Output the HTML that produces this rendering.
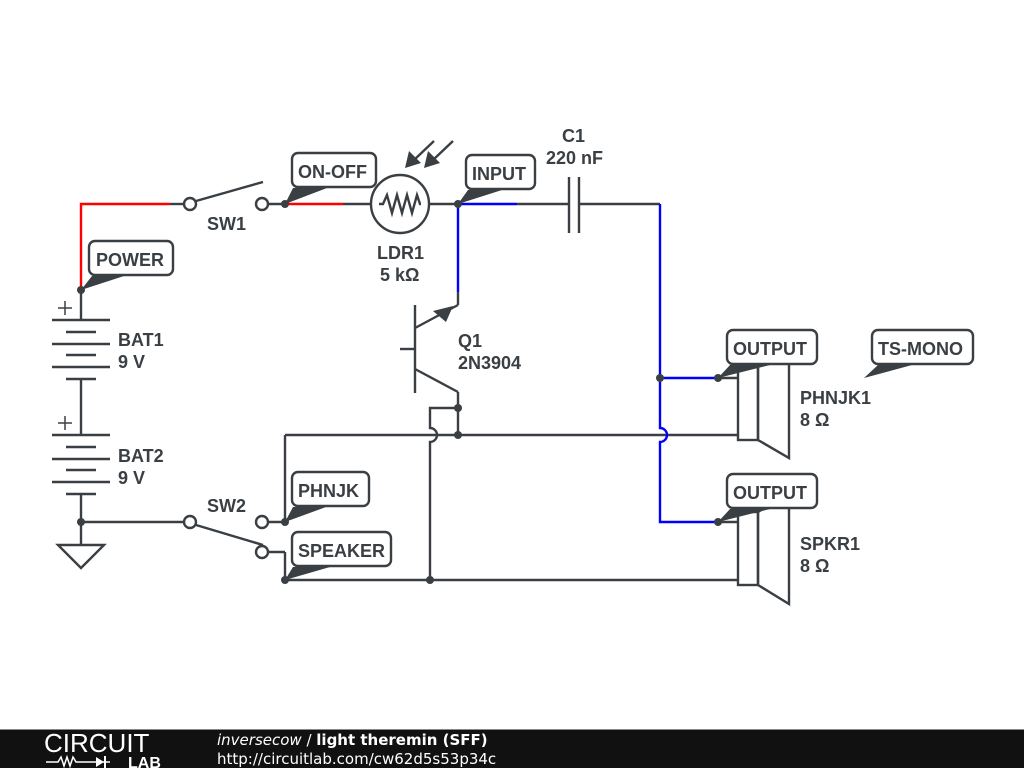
<!DOCTYPE html>
<html><head><meta charset="utf-8"><style>
html,body{margin:0;padding:0;background:#fff;width:1024px;height:768px;overflow:hidden}
svg{display:block}
text{font-family:"Liberation Sans",sans-serif;font-weight:bold;font-size:18px;fill:#3a3f44}
text.f{font-family:"DejaVu Sans",sans-serif;font-size:15px;fill:#fff;font-weight:normal}
</style></head><body>
<svg width="1024" height="768" viewBox="0 0 1024 768" xmlns="http://www.w3.org/2000/svg">
<g stroke="#3a3f44" stroke-width="2.4" fill="none">
<line x1="170" y1="204" x2="184" y2="204"/>
<line x1="268" y1="204" x2="285" y2="204"/>
<line x1="343" y1="204" x2="371" y2="204"/>
<line x1="429" y1="204" x2="458" y2="204"/>
<line x1="517" y1="204" x2="569" y2="204"/>
<line x1="579" y1="204" x2="660" y2="204"/>
<line x1="569" y1="177" x2="569" y2="233"/>
<line x1="579" y1="177" x2="579" y2="233"/>
<circle cx="190" cy="204" r="6"/>
<circle cx="262" cy="204" r="6"/>
<line x1="196" y1="201" x2="263" y2="182"/>
<circle cx="400" cy="204" r="29"/>
<polyline points="379,204 383,204 387,195 392,213 397,195 402,213 407,195 412,213 417,195 420,204 421,204"/>
<line x1="434" y1="141" x2="414" y2="160"/>
<line x1="453" y1="141" x2="433" y2="160"/>
<line x1="81" y1="290" x2="81" y2="320"/>
<line x1="52" y1="320" x2="110" y2="320"/><line x1="66" y1="332" x2="96" y2="332"/>
<line x1="52" y1="344" x2="110" y2="344"/><line x1="66" y1="355" x2="96" y2="355"/>
<line x1="52" y1="367" x2="110" y2="367"/><line x1="66" y1="379" x2="96" y2="379"/>
<line x1="81" y1="379" x2="81" y2="435"/>
<line x1="52" y1="435" x2="110" y2="435"/><line x1="66" y1="447" x2="96" y2="447"/>
<line x1="52" y1="459" x2="110" y2="459"/><line x1="66" y1="470" x2="96" y2="470"/>
<line x1="52" y1="482" x2="110" y2="482"/><line x1="66" y1="494" x2="96" y2="494"/>
<line x1="81" y1="494" x2="81" y2="545"/>
<polygon points="58,545 104,545 81,568"/>
<line x1="58" y1="308" x2="72" y2="308" stroke-width="1.5"/><line x1="65" y1="301" x2="65" y2="315" stroke-width="1.5"/>
<line x1="58" y1="423" x2="72" y2="423" stroke-width="1.5"/><line x1="65" y1="416" x2="65" y2="430" stroke-width="1.5"/>
<line x1="81" y1="522" x2="184" y2="522"/>
<circle cx="190" cy="522" r="6"/>
<circle cx="262" cy="522" r="6"/>
<circle cx="262" cy="552" r="6"/>
<line x1="196" y1="525" x2="263" y2="545"/>
<line x1="268" y1="522" x2="285" y2="522"/>
<line x1="268" y1="552" x2="285" y2="552"/>
<line x1="285" y1="552" x2="285" y2="580"/>
<line x1="285" y1="435" x2="285" y2="522"/>
<line x1="285" y1="435" x2="738" y2="435"/>
<line x1="285" y1="580" x2="738" y2="580"/>
<line x1="415" y1="305" x2="415" y2="393"/>
<line x1="400" y1="349" x2="415" y2="349"/>
<line x1="415" y1="328" x2="458" y2="305"/>
<line x1="458" y1="305" x2="458" y2="292"/>
<line x1="415" y1="369" x2="458" y2="392"/>
<line x1="458" y1="392" x2="458" y2="435"/>
<path d="M458,408 H430 V428 A7,7 0 0 1 430,442 V580"/>
<line x1="718" y1="378" x2="738" y2="378"/>
<line x1="718" y1="522" x2="738" y2="522"/>
<rect x="738" y="367" width="20" height="73"/>
<polygon points="758,367 789,347 789,458 758,440"/>
<rect x="738" y="512" width="20" height="73"/>
<polygon points="758,512 789,492 789,604 758,585"/>
<rect x="89" y="241" width="84" height="34" rx="6" fill="#fff"/>
<rect x="292" y="153" width="84" height="34" rx="6" fill="#fff"/>
<rect x="466" y="155" width="69" height="34" rx="6" fill="#fff"/>
<rect x="727" y="330" width="90" height="34" rx="6" fill="#fff"/>
<rect x="727" y="474" width="90" height="34" rx="6" fill="#fff"/>
<rect x="872" y="330" width="101" height="34" rx="6" fill="#fff"/>
<rect x="292" y="472" width="77" height="34" rx="6" fill="#fff"/>
<rect x="292" y="532" width="99" height="34" rx="6" fill="#fff"/>
</g>
<g stroke="#ff0000" stroke-width="2.4" fill="none">
<polyline points="81,290 81,204 170,204"/>
<line x1="285" y1="204" x2="343" y2="204"/>
</g>
<g stroke="#0000ff" stroke-width="2.4" fill="none">
<line x1="458" y1="204" x2="517" y2="204"/>
<line x1="458" y1="204" x2="458" y2="292"/>
<path d="M660,204 V428 A7,7 0 0 1 660,442 V522 H718"/>
<line x1="660" y1="378" x2="718" y2="378"/>
</g>
<g fill="#3a3f44">
<polygon points="433,311 446,322 453,306"/>
<polygon points="405,168 409,151 421,163"/>
<polygon points="424,168 428,151 440,163"/>
<circle cx="81" cy="290" r="4"/><circle cx="285" cy="204" r="4"/><circle cx="458" cy="204" r="4"/>
<circle cx="458" cy="408" r="4"/><circle cx="458" cy="435" r="4"/><circle cx="430" cy="580" r="4"/>
<circle cx="660" cy="378" r="4"/><circle cx="718" cy="378" r="4"/><circle cx="718" cy="522" r="4"/>
<circle cx="81" cy="522" r="4"/><circle cx="285" cy="522" r="4"/><circle cx="285" cy="580" r="4"/>
<polygon points="81,290 92,276 124,276"/>
<polygon points="285,204 293,188 327,188"/>
<polygon points="458,204 468,190 502,190"/>
<polygon points="718,378 730,365 770,365"/>
<polygon points="718,522 730,509 770,509"/>
<polygon points="864,378 878,365 912,365"/>
<polygon points="285,522 293,507 326,507"/>
<polygon points="285,580 293,567 330,567"/>
</g>
<text x="96" y="266">POWER</text>
<text x="298" y="178">ON-OFF</text>
<text x="472" y="180">INPUT</text>
<text x="733" y="355">OUTPUT</text>
<text x="733" y="499">OUTPUT</text>
<text x="878" y="355">TS-MONO</text>
<text x="298" y="497">PHNJK</text>
<text x="298" y="557">SPEAKER</text>
<text x="207" y="230">SW1</text>
<text x="207" y="512">SW2</text>
<text x="377" y="259">LDR1</text>
<text x="380" y="281">5 kΩ</text>
<text x="562" y="142">C1</text>
<text x="546" y="164">220 nF</text>
<text x="458" y="347">Q1</text>
<text x="458" y="369">2N3904</text>
<text x="118" y="346">BAT1</text>
<text x="118" y="368">9 V</text>
<text x="118" y="462">BAT2</text>
<text x="118" y="484">9 V</text>
<text x="800" y="404">PHNJK1</text>
<text x="800" y="426">8 Ω</text>
<text x="800" y="550">SPKR1</text>
<text x="800" y="572">8 Ω</text>
<rect x="0" y="729" width="1024" height="39" fill="#111"/>
<line x1="0" y1="729.5" x2="1024" y2="729.5" stroke="#888" stroke-width="1"/>
<text x="44" y="752" style="font-weight:normal;font-size:26px;fill:#fff">CIRCUIT</text>
<polyline points="46,762 58,762 61,757 64,766 67,757 70,766 73,757 76,762 110,762" stroke="#fff" stroke-width="1.5" fill="none"/>
<polygon points="96,757 96,767 104,762" fill="#fff"/>
<line x1="105" y1="756" x2="105" y2="768" stroke="#fff" stroke-width="2"/>
<text x="128" y="768" style="font-size:16px;fill:#fff">LAB</text>
<text class="f" x="217" y="745"><tspan style="font-style:italic">inversecow</tspan> / <tspan style="font-weight:bold">light theremin (SFF)</tspan></text>
<text class="f" x="217" y="764">http://circuitlab.com/cw62d5s53p34c</text>
</svg>
</body></html>
